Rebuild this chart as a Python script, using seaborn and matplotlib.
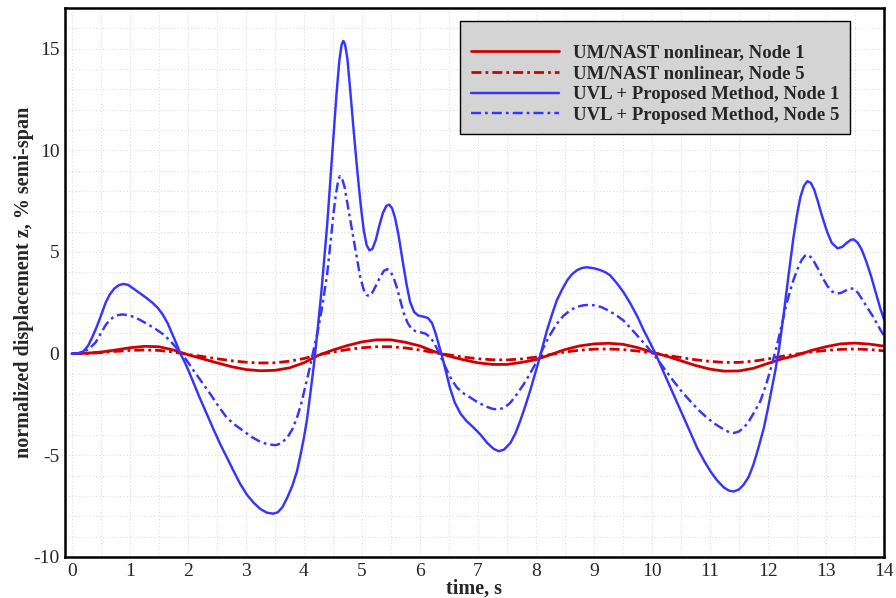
import numpy as np
import pandas as pd
import matplotlib
matplotlib.use("Agg")
import matplotlib.pyplot as plt
from matplotlib.ticker import MultipleLocator
import seaborn as sns

# ---- data ----
labels = ["UM/NAST nonlinear, Node 1", "UM/NAST nonlinear, Node 5",
          "UVL + Proposed Method, Node 1", "UVL + Proposed Method, Node 5"]

red_t = [0, 0.25, 0.5, 0.75, 1.0, 1.25, 1.5, 1.75, 2.0, 2.25, 2.5, 2.75, 3.0, 3.25, 3.5,
         3.75, 4.0, 4.25, 4.5, 4.75, 5.0, 5.25, 5.5, 5.75, 6.0, 6.25, 6.5, 6.75, 7.0,
         7.25, 7.5, 7.75, 8.0, 8.25, 8.5, 8.75, 9.0, 9.25, 9.5, 9.75, 10.0, 10.25, 10.5,
         10.75, 11.0, 11.25, 11.5, 11.75, 12.0, 12.25, 12.5, 12.75, 13.0, 13.25, 13.5,
         13.75, 14.0]
um_node1 = [0, 0.02, 0.08, 0.18, 0.29, 0.36, 0.34, 0.18, -0.05, -0.25, -0.45, -0.64,
            -0.78, -0.84, -0.82, -0.7, -0.45, -0.08, 0.18, 0.4, 0.58, 0.68, 0.68, 0.56,
            0.38, 0.1, -0.12, -0.3, -0.45, -0.53, -0.53, -0.43, -0.3, -0.05, 0.2, 0.38,
            0.48, 0.51, 0.46, 0.3, 0.08, -0.12, -0.35, -0.58, -0.76, -0.86, -0.85, -0.72,
            -0.48, -0.25, -0.08, 0.16, 0.34, 0.48, 0.52, 0.47, 0.37]
um_node5 = [0, 0.01, 0.05, 0.11, 0.16, 0.18, 0.16, 0.08, -0.04, -0.14, -0.25, -0.35,
            -0.42, -0.46, -0.45, -0.37, -0.24, -0.05, 0.08, 0.2, 0.29, 0.34, 0.34, 0.28,
            0.18, 0.05, -0.06, -0.17, -0.25, -0.3, -0.31, -0.26, -0.17, -0.04, 0.08, 0.17,
            0.22, 0.23, 0.2, 0.13, 0.03, -0.08, -0.19, -0.3, -0.38, -0.43, -0.43, -0.37,
            -0.26, -0.13, -0.02, 0.08, 0.16, 0.21, 0.23, 0.2, 0.14]

uvl1_t = [0, 0.1, 0.2, 0.28, 0.35, 0.41, 0.47, 0.53, 0.58, 0.65, 0.73, 0.81, 0.89, 0.97,
          1.05, 1.16, 1.28, 1.39, 1.48, 1.56, 1.65, 1.73, 1.8, 1.87, 1.95, 2.02, 2.1, 2.2,
          2.33, 2.45, 2.56, 2.68, 2.79, 2.9, 3.02, 3.14, 3.25, 3.36, 3.47, 3.55, 3.63, 3.71,
          3.8, 3.88, 3.94, 4.0, 4.05, 4.1, 4.17, 4.23, 4.3, 4.4, 4.5, 4.56, 4.61, 4.65,
          4.68, 4.71, 4.75, 4.8, 4.86, 4.92, 4.98, 5.03, 5.08, 5.13, 5.18, 5.24, 5.3, 5.36,
          5.42, 5.47, 5.52, 5.57, 5.63, 5.7, 5.77, 5.83, 5.9, 5.97, 6.06, 6.14, 6.21, 6.27,
          6.33, 6.38, 6.45, 6.52, 6.6, 6.7, 6.8, 6.93, 7.05, 7.16, 7.27, 7.36, 7.45, 7.56,
          7.65, 7.73, 7.82, 7.9, 7.98, 8.05, 8.12, 8.19, 8.28, 8.36, 8.45, 8.54, 8.62, 8.71,
          8.8, 8.88, 9.0, 9.11, 9.2, 9.28, 9.4, 9.52, 9.63, 9.75, 9.86, 9.98, 10.09, 10.2,
          10.32, 10.44, 10.55, 10.67, 10.78, 10.9, 11.01, 11.12, 11.24, 11.33, 11.41, 11.5,
          11.58, 11.67, 11.75, 11.84, 11.93, 12.0, 12.07, 12.13, 12.19, 12.27, 12.36, 12.44,
          12.5, 12.56, 12.62, 12.68, 12.74, 12.8, 12.86, 12.93, 13.02, 13.1, 13.2, 13.28,
          13.36, 13.43, 13.48, 13.55, 13.62, 13.7, 13.78, 13.86, 13.94, 14.0]
uvl_node1 = [0, 0.01, 0.12, 0.4, 0.81, 1.2, 1.63, 2.1, 2.5, 2.9, 3.2, 3.37, 3.43, 3.38,
             3.22, 3.0, 2.75, 2.5, 2.25, 1.95, 1.5, 0.97, 0.5, 0.0, -0.45, -0.9, -1.45,
             -2.15, -3.0, -3.78, -4.47, -5.15, -5.79, -6.4, -6.95, -7.35, -7.64, -7.82,
             -7.87, -7.8, -7.55, -7.1, -6.5, -5.79, -5.0, -4.14, -3.3, -2.2, -0.6, 1.0, 3.0,
             6.3, 10.3, 12.7, 14.4, 15.2, 15.38, 15.2, 14.5, 12.9, 10.9, 9.0, 7.3, 6.1,
             5.35, 5.08, 5.15, 5.6, 6.3, 6.9, 7.27, 7.33, 7.15, 6.7, 5.85, 4.6, 3.4, 2.55,
             2.05, 1.88, 1.82, 1.75, 1.5, 1.0, 0.4, -0.1, -0.9, -1.7, -2.4, -2.95, -3.3,
             -3.65, -4.0, -4.39, -4.68, -4.8, -4.72, -4.39, -3.9, -3.3, -2.55, -1.83, -1.05,
             -0.35, 0.4, 1.14, 1.95, 2.62, 3.15, 3.61, 3.9, 4.11, 4.22, 4.25, 4.2, 4.11, 4.0,
             3.85, 3.45, 2.98, 2.46, 1.82, 1.14, 0.47, -0.18, -0.9, -1.67, -2.45, -3.15,
             -3.92, -4.64, -5.27, -5.79, -6.22, -6.58, -6.74, -6.78, -6.68, -6.45, -6.05,
             -5.46, -4.6, -3.65, -2.7, -1.67, -0.8, 0.2, 1.9, 3.95, 5.7, 6.8, 7.7, 8.25,
             8.48, 8.4, 8.05, 7.5, 6.8, 6.0, 5.45, 5.18, 5.25, 5.45, 5.6, 5.62, 5.45, 5.1,
             4.5, 3.8, 3.0, 2.2, 1.7]

uvl5_t = [0, 0.1, 0.2, 0.3, 0.41, 0.5, 0.58, 0.66, 0.73, 0.8, 0.87, 0.95, 1.05, 1.16, 1.3,
          1.44, 1.56, 1.67, 1.76, 1.85, 1.95, 2.02, 2.1, 2.24, 2.39, 2.53, 2.67, 2.82, 2.96,
          3.1, 3.25, 3.38, 3.51, 3.6, 3.71, 3.8, 3.88, 3.95, 4.02, 4.08, 4.14, 4.2, 4.25,
          4.32, 4.4, 4.46, 4.51, 4.55, 4.59, 4.62, 4.66, 4.7, 4.74, 4.8, 4.86, 4.92, 4.97,
          5.03, 5.08, 5.13, 5.19, 5.25, 5.32, 5.38, 5.44, 5.5, 5.55, 5.6, 5.66, 5.72, 5.79,
          5.86, 5.93, 6.01, 6.1, 6.18, 6.25, 6.32, 6.39, 6.47, 6.55, 6.64, 6.75, 6.87, 7.0,
          7.16, 7.26, 7.36, 7.46, 7.56, 7.67, 7.79, 7.9, 7.99, 8.08, 8.16, 8.26, 8.36, 8.47,
          8.59, 8.7, 8.82, 8.92, 9.0, 9.12, 9.23, 9.37, 9.51, 9.65, 9.8, 9.95, 10.09, 10.23,
          10.37, 10.51, 10.66, 10.8, 10.95, 11.1, 11.24, 11.33, 11.41, 11.5, 11.58, 11.66,
          11.75, 11.87, 11.96, 12.04, 12.1, 12.16, 12.24, 12.33, 12.42, 12.5, 12.58, 12.64,
          12.68, 12.74, 12.8, 12.86, 12.94, 13.02, 13.1, 13.19, 13.27, 13.35, 13.42, 13.48,
          13.55, 13.63, 13.71, 13.8, 13.88, 13.95, 14.0]
uvl_node5 = [0, 0.01, 0.08, 0.25, 0.56, 1.0, 1.4, 1.68, 1.82, 1.9, 1.93, 1.9, 1.82, 1.68,
             1.46, 1.22, 0.98, 0.7, 0.42, 0.12, -0.22, -0.5, -0.84, -1.4, -2.0, -2.6, -3.15,
             -3.52, -3.81, -4.1, -4.34, -4.46, -4.5, -4.42, -4.14, -3.72, -3.15, -2.5, -1.67,
             -0.95, -0.18, 0.6, 1.25, 2.4, 3.9, 5.5, 6.9, 7.8, 8.5, 8.73, 8.6, 8.2, 7.55,
             6.6, 5.6, 4.6, 3.78, 3.15, 2.88, 2.84, 3.05, 3.4, 3.8, 4.08, 4.16, 4.0, 3.7,
             3.28, 2.65, 2.0, 1.5, 1.2, 1.1, 1.05, 0.98, 0.8, 0.5, 0.1, -0.35, -0.84, -1.3,
             -1.67, -1.95, -2.16, -2.4, -2.62, -2.72, -2.74, -2.65, -2.41, -2.0, -1.5, -0.98,
             -0.51, 0.0, 0.48, 1.0, 1.47, 1.85, 2.13, 2.3, 2.38, 2.4, 2.38, 2.3, 2.15, 1.92,
             1.63, 1.2, 0.72, 0.23, -0.26, -0.8, -1.34, -1.85, -2.33, -2.76, -3.15, -3.48,
             -3.73, -3.86, -3.9, -3.83, -3.65, -3.38, -2.95, -2.33, -1.6, -0.84, -0.2, 0.45,
             1.45, 2.55, 3.45, 4.1, 4.6, 4.82, 4.87, 4.75, 4.5, 4.2, 3.75, 3.35, 3.07, 2.95,
             3.0, 3.12, 3.2, 3.2, 3.0, 2.65, 2.28, 1.88, 1.47, 1.12, 0.9]

x_ticks = list(range(0, 15))
y_ticks = [-10, -5, 0, 5, 10, 15]

# ---- styling ----
sns.set_style("white")
plt.rcParams["font.family"] = ["Liberation Serif", "DejaVu Serif"]
plt.rcParams["axes.unicode_minus"] = False

RED = "#d00000"
BLUE = "#3535ff"
LW_RED = 2.0
LW_BLUE = 1.75


def dashdot(lw):
    # pattern in points: dash 7.2, gap 2.9, dot 2.0, gap 2.9
    return (0, (7.2 / lw, 2.9 / lw, 2.0 / lw, 2.9 / lw))


fig = plt.figure(figsize=(8.96, 5.98), dpi=100)
ax = fig.add_axes([0.0725, 0.0686, 0.914, 0.918])

series = [
    (red_t, um_node1, labels[0], RED, "-", LW_RED),
    (red_t, um_node5, labels[1], RED, dashdot(LW_RED), LW_RED),
    (uvl1_t, uvl_node1, labels[2], BLUE, "-", LW_BLUE),
    (uvl5_t, uvl_node5, labels[3], BLUE, dashdot(LW_BLUE), LW_BLUE),
]
for t, z, lab, col, ls, lw in series:
    df = pd.DataFrame({"t": t, "z": z})
    sns.lineplot(data=df, x="t", y="z", ax=ax, color=col, linestyle=ls,
                 linewidth=lw, label=lab, estimator=None, sort=False)

ax.set_xlim(-0.12, 14)
ax.set_ylim(-10, 17)
ax.set_xticks(x_ticks)
ax.set_yticks(y_ticks)
ax.xaxis.set_minor_locator(MultipleLocator(0.5))
ax.yaxis.set_minor_locator(MultipleLocator(1))
ax.tick_params(which="major", direction="in", length=6, width=1.4,
               labelsize=14, top=False, right=False, pad=4)
ax.tick_params(which="minor", direction="in", length=3, width=1.0,
               top=False, right=False)
ax.grid(which="both", linestyle=(0, (1, 2.5)), color="#d6d6d6", linewidth=0.7)
ax.set_axisbelow(True)
for s in ax.spines.values():
    s.set_linewidth(1.8)
    s.set_color("black")

ax.set_xlabel("time, s", fontsize=14.5, fontweight="bold", labelpad=-1)
ax.set_ylabel("normalized displacement z, % semi-span", fontsize=14.5,
              fontweight="bold", labelpad=-0.5)

leg = ax.legend(loc="upper right", bbox_to_anchor=(0.958, 0.976), borderaxespad=0,
                prop={"family": ["Liberation Serif"], "weight": "bold", "size": 13.5},
                title=" ", title_fontsize=8,
                frameon=True, fancybox=False, framealpha=1, facecolor="#d4d4d4",
                edgecolor="black", handlelength=4.7, handletextpad=0.75,
                labelspacing=0.2, borderpad=0.55)
leg.get_frame().set_linewidth(1.0)

fig.savefig("out.png", dpi=100)
